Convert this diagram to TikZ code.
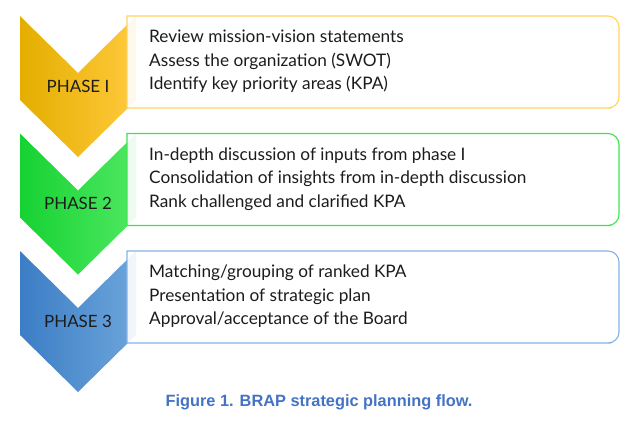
\documentclass[tikz,border=0pt]{standalone}
\usepackage{fontspec}
\setmainfont{Lato}
\newfontfamily\capfont{Liberation Sans}
\usepackage{tikz}
\usetikzlibrary{calc}
\definecolor{goldL}{HTML}{E4AE00}
\definecolor{goldM}{HTML}{FFC000}
\definecolor{goldR}{HTML}{FFC93C}
\definecolor{goldB}{HTML}{FFD35C}
\definecolor{grassL}{HTML}{16D232}
\definecolor{grassM}{HTML}{24E03E}
\definecolor{grassR}{HTML}{4FE862}
\definecolor{grassB}{HTML}{3FE352}
\definecolor{skyL}{HTML}{3C7DC5}
\definecolor{skyM}{HTML}{5190D0}
\definecolor{skyR}{HTML}{6CA5DB}
\definecolor{skyB}{HTML}{85B2E5}
\definecolor{inktext}{HTML}{1C1C1C}
\definecolor{capblue}{HTML}{4472C4}
\tikzstyle{flow}=[
  x=1bp, y=-1bp, font=\fontsize{17.3}{23.5}\selectfont
]
\tikzstyle{phasebox}=[
  line width=1.1bp, fill=white, fill opacity=0.9
]
\tikzstyle{phaselabel}=[
  inner sep=0pt, text=inktext, font=\fontsize{17}{20}\selectfont
]
\tikzstyle{steps}=[
  inner sep=0pt, anchor=west, align=left, text=inktext
]

\begin{document}
\begin{tikzpicture}[flow]
    \useasboundingbox (0,0) rectangle (640,428);
    \def\deep{57}
    \foreach \n/\t/\col/\lines in {
      1/16/gold/{Review mission-vision statements\\Assess the organization (SWOT)\\Identify key priority areas (KPA)},
      2/133.5/grass/{In-depth discussion of inputs from phase I\\Consolidation of insights from in-depth discussion\\Rank challenged and clarified KPA},
      3/251/sky/{Matching/grouping of ranked KPA\\Presentation of strategic plan\\Approval/acceptance of the Board}} {
      % chevron
      \shade [left color=\col L, middle color=\col M, right color=\col R]
        (20,\t) -- ++(58,\deep) -- ++(58,-\deep) -- ++(0,84) -- ++(-58,\deep) -- ++(-58,-\deep) -- cycle;
      % box with rounded right end
      \draw [phasebox, draw=\col B] (127,\t) -- (600,\t) [rounded corners=11bp] -- (619,\t) -- (619,\t+92)
        -- (600,\t+92) [sharp corners] -- (127,\t+92) -- cycle;
      \node (lab\n) at (78,\t+70) [phaselabel] {\ifnum\n=1 PHASE I\else PHASE \n\fi};
      \node (txt\n) at (149,\t+45.5) [steps] {\lines};
    }
    \node (cap) at (319,402) [inner sep=0pt, text=capblue, font=\capfont\bfseries\fontsize{16.4}{19}\selectfont]
      {Figure 1. BRAP strategic planning flow.};
\end{tikzpicture}
\end{document}
